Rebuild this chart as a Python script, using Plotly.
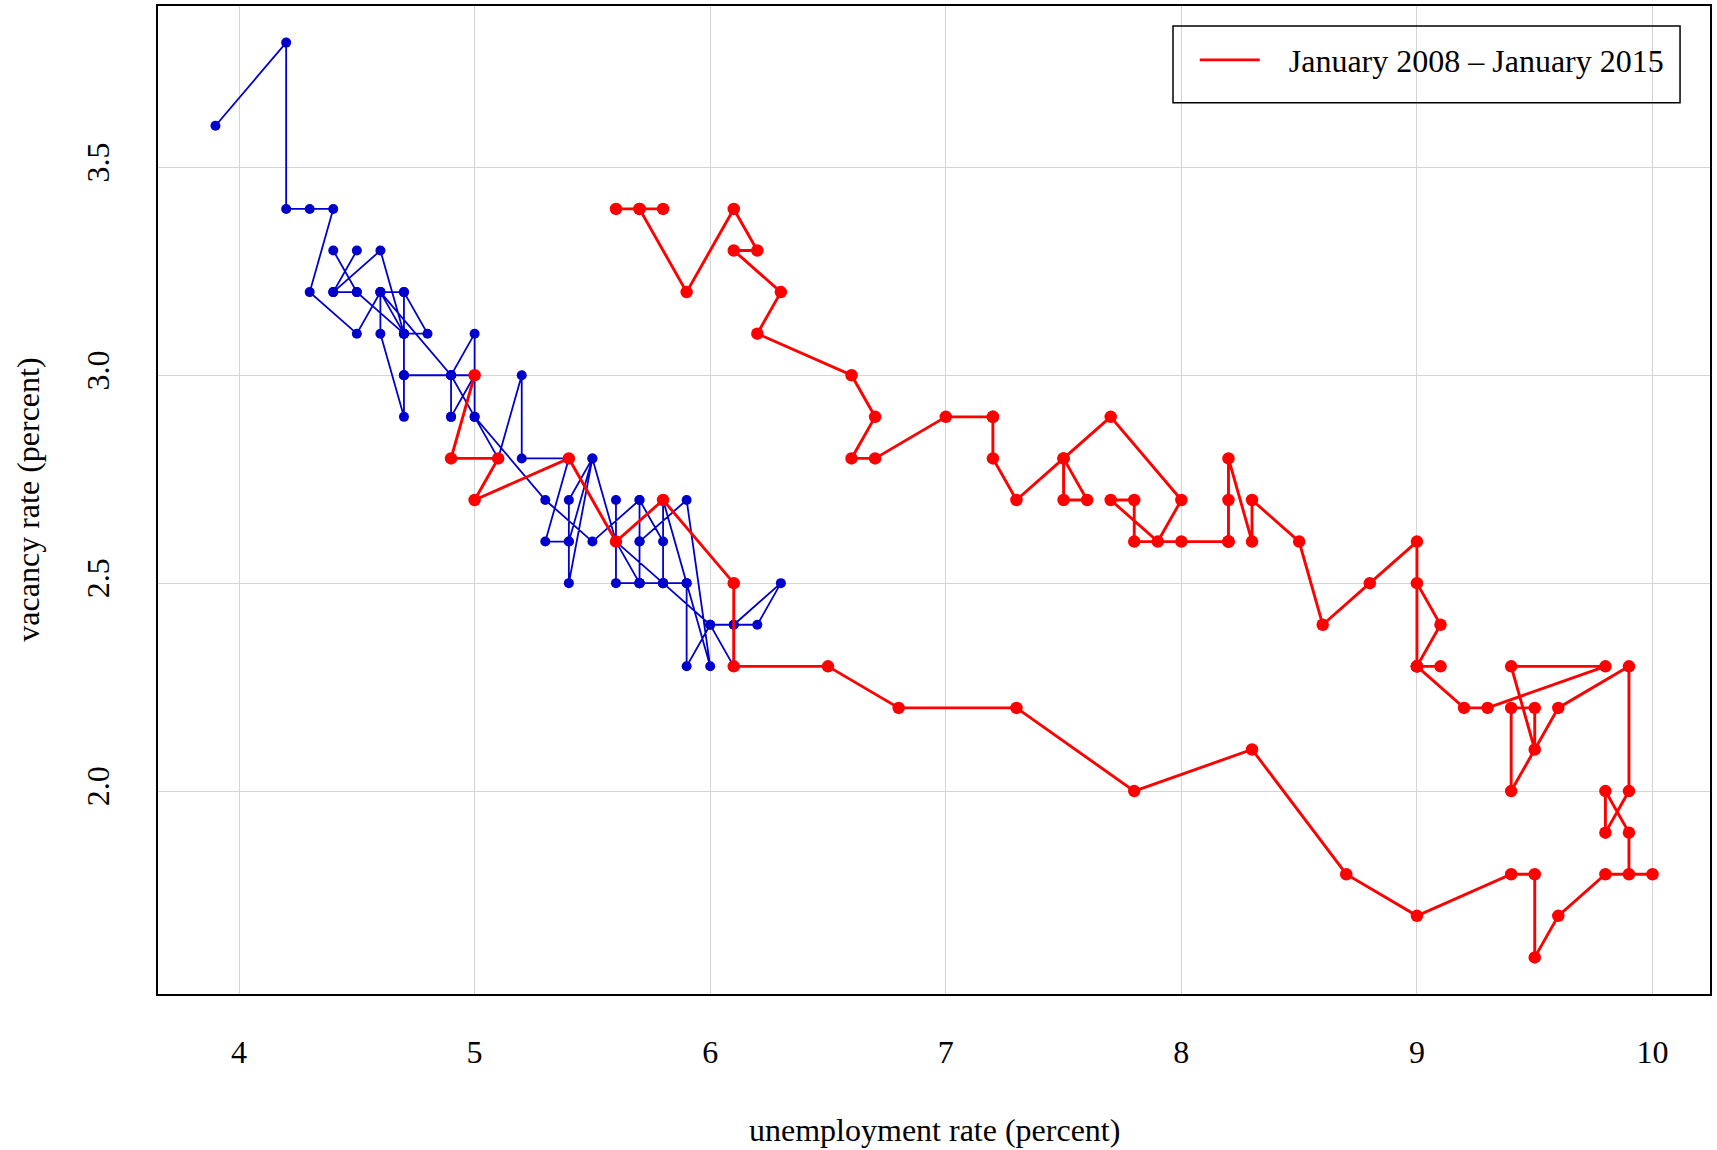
import plotly.graph_objects as go

# Blue series: December 2000 - December 2007 (unemployment %, vacancy %)
pre_unemp = [3.9,
    4.2, 4.2, 4.3, 4.4, 4.3, 4.5, 4.6, 4.9, 5.0, 5.3, 5.5, 5.7,
    5.7, 5.7, 5.7, 5.9, 5.8, 5.8, 5.8, 5.7, 5.7, 5.7, 5.9, 6.0,
    5.8, 5.9, 5.9, 6.0, 6.1, 6.3, 6.2, 6.1, 6.1, 6.0, 5.8, 5.7,
    5.7, 5.6, 5.8, 5.6, 5.6, 5.6, 5.5, 5.4, 5.4, 5.5, 5.4, 5.4,
    5.3, 5.4, 5.2, 5.2, 5.1, 5.0, 5.0, 4.9, 5.0, 4.9, 5.0, 4.9,
    4.7, 4.7, 4.6, 4.6, 4.7, 4.7, 4.7, 4.7, 4.5, 4.4, 4.5, 4.4,
    4.5, 4.4, 4.6, 4.7, 4.6, 4.7, 4.8, 4.7, 4.7, 4.9, 4.9, 5.0]
pre_vac = [3.6,
    3.8, 3.4, 3.4, 3.4, 3.2, 3.1, 3.2, 3.0, 2.9, 2.7, 2.6, 2.7,
    2.6, 2.5, 2.5, 2.5, 2.7, 2.5, 2.6, 2.7, 2.5, 2.6, 2.7, 2.3,
    2.7, 2.5, 2.3, 2.4, 2.4, 2.5, 2.4, 2.4, 2.3, 2.4, 2.5, 2.5,
    2.5, 2.6, 2.5, 2.5, 2.7, 2.6, 2.8, 2.5, 2.6, 2.8, 2.7, 2.6,
    2.6, 2.8, 2.8, 3.0, 2.8, 2.9, 3.1, 3.0, 3.0, 2.9, 3.0, 3.0,
    3.0, 3.1, 3.2, 3.1, 2.9, 3.0, 3.2, 3.1, 3.2, 3.3, 3.2, 3.2,
    3.3, 3.2, 3.3, 3.1, 3.2, 3.2, 3.1, 3.1, 3.0, 3.0, 2.9, 3.0]

# Red series: January 2008 - January 2015
post_unemp = [
    5.0, 4.9, 5.1, 5.0, 5.4, 5.6, 5.8, 6.1, 6.1, 6.5, 6.8, 7.3,
    7.8, 8.3, 8.7, 9.0, 9.4, 9.5, 9.5, 9.6, 9.8, 10.0, 9.9, 9.9,
    9.8, 9.8, 9.9, 9.9, 9.6, 9.4, 9.4, 9.5, 9.5, 9.4, 9.8, 9.3,
    9.2, 9.0, 9.0, 9.1, 9.0, 9.1, 9.0, 9.0, 9.0, 8.8, 8.6, 8.5,
    8.3, 8.3, 8.2, 8.2, 8.2, 8.2, 8.2, 8.0, 7.8, 7.8, 7.7, 7.9,
    8.0, 7.7, 7.5, 7.6, 7.5, 7.5, 7.3, 7.2, 7.2, 7.2, 7.0, 6.7,
    6.6, 6.7, 6.6, 6.2, 6.3, 6.1, 6.2, 6.1, 5.9, 5.7, 5.8, 5.6,
    5.7]
post_vac = [
    3.0, 2.8, 2.8, 2.7, 2.8, 2.6, 2.7, 2.5, 2.3, 2.3, 2.2, 2.2,
    2.0, 2.1, 1.8, 1.7, 1.8, 1.8, 1.6, 1.7, 1.8, 1.8, 1.8, 1.9,
    2.0, 1.9, 2.0, 2.3, 2.2, 2.0, 2.2, 2.2, 2.1, 2.3, 2.3, 2.2,
    2.2, 2.3, 2.3, 2.3, 2.3, 2.4, 2.5, 2.3, 2.6, 2.5, 2.4, 2.6,
    2.7, 2.6, 2.8, 2.7, 2.6, 2.6, 2.6, 2.6, 2.6, 2.7, 2.7, 2.6,
    2.7, 2.9, 2.8, 2.7, 2.7, 2.8, 2.7, 2.8, 2.9, 2.9, 2.9, 2.8,
    2.8, 2.9, 3.0, 3.1, 3.2, 3.3, 3.3, 3.4, 3.2, 3.4, 3.4, 3.4,
    3.4]

x_ticks = [4, 5, 6, 7, 8, 9, 10]
y_ticks = [2.0, 2.5, 3.0, 3.5]
legend_label = "January 2008 \u2013 January 2015"

FONT = "Liberation Serif, Times New Roman, serif"
FS = 32
BLUE = "#0000CD"
RED = "#FF0000"

fig = go.Figure()
fig.add_trace(go.Scatter(
    x=pre_unemp, y=pre_vac, mode="lines+markers",
    line=dict(color=BLUE, width=1.8),
    marker=dict(color=BLUE, size=10),
    showlegend=False, hoverinfo="x+y"))
fig.add_trace(go.Scatter(
    x=post_unemp, y=post_vac, mode="lines+markers",
    line=dict(color=RED, width=2.9),
    marker=dict(color=RED, size=12.5),
    showlegend=False, hoverinfo="x+y"))
# legend entry (line only, as in the reference)
fig.add_trace(go.Scatter(
    x=[None], y=[None], mode="lines",
    name="\u00a0\u00a0\u00a0" + legend_label,
    line=dict(color=RED, width=2.9), showlegend=True))

xmin, xmax = min(pre_unemp + post_unemp), max(pre_unemp + post_unemp)
ymin, ymax = min(pre_vac + post_vac), max(pre_vac + post_vac)
xpad = (xmax - xmin) * 0.04
ypad = (ymax - ymin) * 0.04

fig.update_layout(
    width=1717, height=1150,
    margin=dict(l=158, r=7, t=4, b=156),
    paper_bgcolor="white", plot_bgcolor="white",
    font=dict(family=FONT, size=FS, color="black"),
    showlegend=True,
    legend=dict(
        x=0.668, y=0.9731, xanchor="left", yanchor="top",
        borderwidth=0, bgcolor="rgba(0,0,0,0)",
        font=dict(family=FONT, size=FS, color="black"),
        itemwidth=60, tracegroupgap=0),
    xaxis=dict(
        range=[xmin - xpad, xmax + xpad],
        tickmode="array", tickvals=x_ticks, ticktext=[str(t) for t in x_ticks],
        showgrid=True, gridcolor="#d4d4d4", gridwidth=1,
        zeroline=False, showline=True, mirror=True,
        linecolor="black", linewidth=2, ticks="",
        ticklabelstandoff=29,
        tickfont=dict(family=FONT, size=FS)),
    yaxis=dict(
        range=[ymin - ypad, ymax + ypad],
        tickmode="array", tickvals=y_ticks, ticktext=[f"{t:.1f}" for t in y_ticks],
        showgrid=True, gridcolor="#d4d4d4", gridwidth=1,
        zeroline=False, showline=True, mirror=True,
        linecolor="black", linewidth=2, ticks="",
        tickangle=-90, ticklabelstandoff=34,
        tickfont=dict(family=FONT, size=FS)),
    shapes=[
        dict(type="rect", xref="paper", yref="paper",
             x0=0.654, x1=0.9807, y0=0.902, y1=0.9798,
             line=dict(color="black", width=1.5), fillcolor="rgba(0,0,0,0)",
             layer="above"),
    ],
    annotations=[
        dict(text="unemployment rate (percent)", xref="paper", yref="paper",
             x=0.5, y=-0.138, xanchor="center", yanchor="middle",
             showarrow=False, font=dict(family=FONT, size=FS)),
        dict(text="vacancy rate (percent)", xref="paper", yref="paper",
             x=-0.084, y=0.5, xanchor="center", yanchor="middle", textangle=-90,
             showarrow=False, font=dict(family=FONT, size=FS)),
    ],
)

fig.write_html("out.html",
               config={"displayModeBar": False},
               post_script="document.body.style.margin='0';document.body.style.overflow='hidden';")
